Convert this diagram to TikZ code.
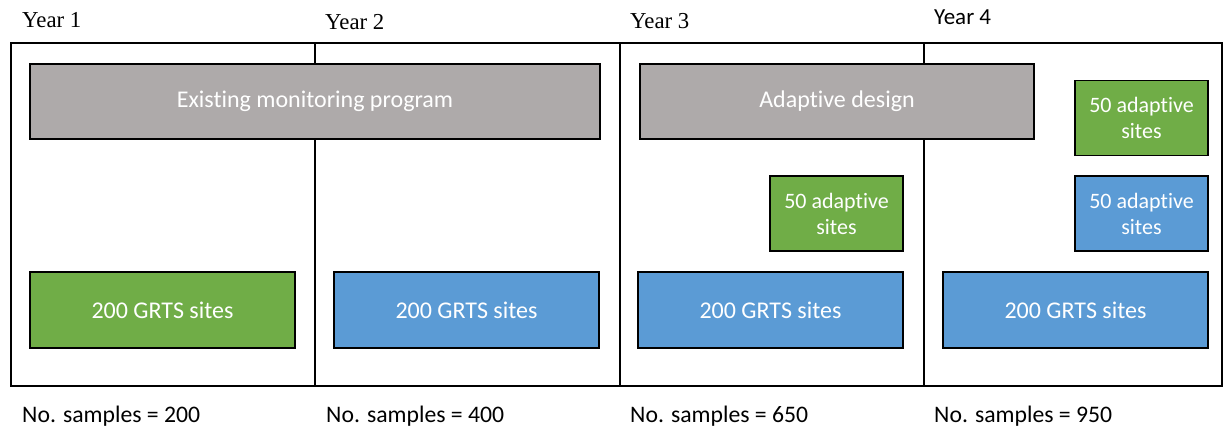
\documentclass[tikz,border=0pt]{standalone}
\usepackage{fontspec}
\setmainfont{Carlito}[Ligatures={NoCommon,NoContextual,NoRequired,NoRare},Contextuals=NoAlternate]
\newfontfamily\yrserif{Liberation Serif}
\definecolor{boxgrey}{HTML}{AEAAAA}
\definecolor{boxgreen}{HTML}{70AD47}
\definecolor{boxblue}{HTML}{5B9BD5}
\newcommand{\nlg}{\kern0pt }
\begin{document}
\begin{tikzpicture}[x=1pt,y=-1pt,
  frameline/.style={draw=black, line width=1.3pt},
  box/.style={draw=black, line width=1.3pt, text=white, align=center, inner sep=0pt,
    font=\fontsize{24}{27}\selectfont},
  widebox/.style={box, minimum width=570pt, minimum height=75pt},
  grtsbox/.style={box, minimum width=265pt, minimum height=76pt},
  smallbox/.style={box, minimum width=133pt, minimum height=75pt, font=\fontsize{22}{26}\selectfont},
  yearlbl/.style={anchor=base west, inner sep=0pt, font=\yrserif\fontsize{22.8}{24}\selectfont},
  yearlblsans/.style={anchor=base west, inner sep=0pt, font=\fontsize{23}{24}\selectfont},
  samplbl/.style={anchor=base west, inner sep=0pt, font=\fontsize{23.7}{26}\selectfont}
]
\useasboundingbox (0,0) rectangle (1223,427);
% frame and dividers
\draw[frameline] (11,43) rectangle (1222,386);
\coordinate (d1t) at (315,43); \coordinate (d1b) at (315,386);
\coordinate (d2t) at (620,43); \coordinate (d2b) at (620,386);
\coordinate (d3t) at (924,43); \coordinate (d3b) at (924,386);
\draw[frameline] (d1t) -- (d1b);
\draw[frameline] (d2t) -- (d2b);
\draw[frameline] (d3t) -- (d3b);
% year labels
\node[yearlbl] (y1) at (22,28) {Year 1};
\node[yearlbl] (y2) at (325,30) {Year 2};
\node[yearlbl] (y3) at (630,29) {Year 3};
\node[yearlblsans] (y4) at (934,25) {Year 4};
% wide boxes
\node[widebox, fill=boxgrey] (existing) at (315,101.5) {Exist\nlg ing monitoring program};
\node[box, fill=boxgrey, minimum width=394pt, minimum height=75pt] (adaptive) at (837,101.5) {Adapt\nlg ive design};
% small adaptive boxes
\node[smallbox, fill=boxgreen] (a3) at (836.5,213.5) {50 adapt\nlg ive\\sites};
\node[smallbox, fill=boxgreen] (a4g) at (1141.5,118) {50 adapt\nlg ive\\sites};
\node[smallbox, fill=boxblue] (a4b) at (1141.5,213.5) {50 adapt\nlg ive\\sites};
% GRTS boxes
\node[grtsbox, fill=boxgreen] (g1) at (162.5,310) {200 GRTS sites};
\node[grtsbox, fill=boxblue] (g2) at (466.5,310) {200 GRTS sites};
\node[grtsbox, fill=boxblue] (g3) at (770.5,310) {200 GRTS sites};
\node[grtsbox, fill=boxblue] (g4) at (1075.5,310) {200 GRTS sites};
% sample labels
\node[samplbl] (s1) at (22,422) {No. samples = 200};
\node[samplbl] (s2) at (326,422) {No. samples = 400};
\node[samplbl] (s3) at (630,422) {No. samples = 650};
\node[samplbl] (s4) at (934,422) {No. samples = 950};
\end{tikzpicture}
\end{document}
